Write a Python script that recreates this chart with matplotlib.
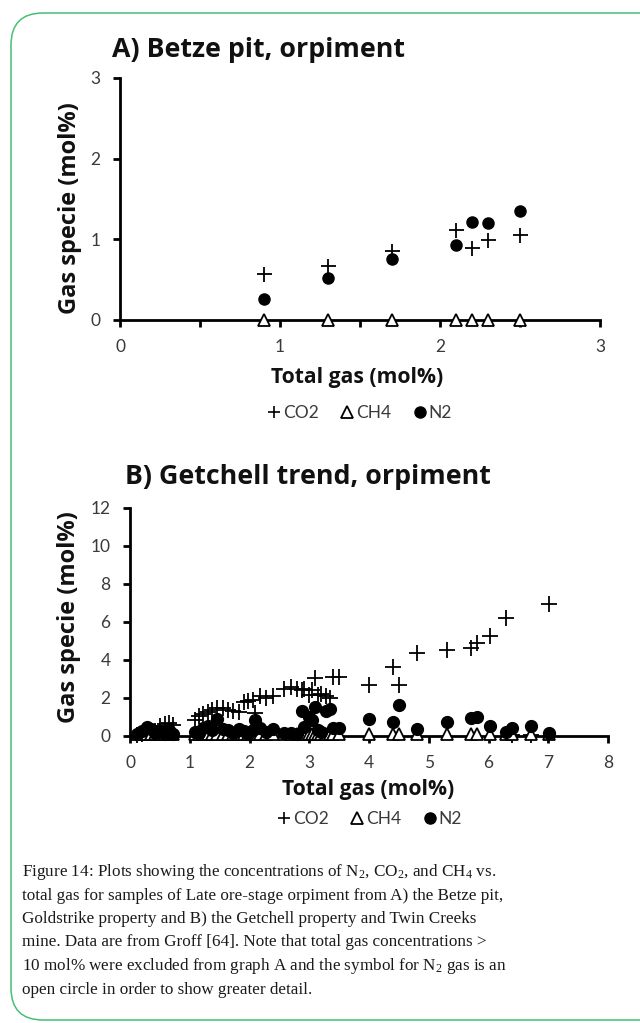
import matplotlib
matplotlib.use("Agg")
import matplotlib.pyplot as plt
from matplotlib.patches import FancyBboxPatch
from matplotlib.lines import Line2D
import numpy as np

plt.rcParams['mathtext.fontset'] = 'custom'
plt.rcParams['mathtext.rm'] = 'Liberation Serif'
plt.rcParams['mathtext.it'] = 'Liberation Serif:italic'

# ---------------- Data ----------------
# Panel A: Betze pit, orpiment
total_a = [0.9, 1.3, 1.7, 2.1, 2.2, 2.3, 2.5]
co2_a = [0.57, 0.67, 0.86, 1.11, 0.89, 0.99, 1.05]
ch4_a = [0.0, 0.0, 0.0, 0.0, 0.0, 0.0, 0.0]
n2_a = [0.26, 0.52, 0.75, 0.93, 1.22, 1.20, 1.35]

# Panel B: Getchell trend, orpiment
total_b = [0.12, 0.20, 0.28, 0.35, 0.42, 0.50, 0.58, 0.65, 0.72,
           1.08, 1.15, 1.22, 1.30, 1.38, 1.46, 1.55, 1.64, 1.72, 1.82,
           1.90, 1.98, 2.06, 2.10, 2.18, 2.28, 2.40, 2.58, 2.70, 2.80,
           2.88, 2.92, 3.00, 3.05, 3.10, 3.14, 3.20, 3.28, 3.35, 3.40, 3.50,
           4.00, 4.40, 4.51, 4.81, 5.31, 5.70, 5.80, 6.03, 6.30, 6.40, 6.71, 7.01]
co2_b = [0.05, 0.10, 0.15, 0.20, 0.25, 0.55, 0.62, 0.70, 0.60,
         0.82, 1.05, 1.15, 1.28, 1.35, 1.45, 1.45, 1.38, 1.30, 1.28,
         1.80, 1.85, 1.88, 1.20, 2.10, 1.98, 2.10, 2.50, 2.58, 2.45,
         2.40, 2.50, 2.15, 2.40, 3.05, 2.15, 2.20, 2.10, 2.00, 3.10, 3.10,
         2.70, 3.64, 2.68, 4.39, 4.51, 4.65, 4.90, 5.25, 6.23, 0.05, 0.05, 6.96]
ch4_b = [0.08] * len(total_b)
n2_b = [0.12, 0.25, 0.45, 0.35, 0.15, 0.25, 0.10, 0.30, 0.12,
        0.22, 0.15, 0.40, 0.55, 0.30, 0.90, 0.35, 0.30, 0.15, 0.35,
        0.25, 0.10, 0.30, 0.85, 0.40, 0.20, 0.35, 0.15, 0.18, 0.10,
        1.30, 0.50, 1.00, 0.85, 1.55, 0.30, 0.20, 1.30, 1.40, 0.40, 0.42,
        0.87, 0.75, 1.63, 0.35, 0.72, 0.93, 1.01, 0.54, 0.20, 0.44, 0.54, 0.14]

species = ["CO2", "CH4", "N2"]
xticks_a = [0, 1, 2, 3]
yticks_a = [0, 1, 2, 3]
xticks_b = [0, 1, 2, 3, 4, 5, 6, 7, 8]
yticks_b = [0, 2, 4, 6, 8, 10, 12]

caption_lines = [
    r"Figure 14: Plots showing the concentrations of N${}_{2}$, CO${}_{2}$, and CH${}_{4}$ vs.",
    "total gas for samples of Late ore-stage orpiment from A) the Betze pit,",
    "Goldstrike property and B) the Getchell property and Twin Creeks",
    "mine. Data are from Groff [64]. Note that total gas concentrations >",
    r"10 mol% were excluded from graph A and the symbol for N${}_{2}$ gas is an",
    "open circle in order to show greater detail.",
]

# ---------------- Figure ----------------
W, H = 640, 1023
fig = plt.figure(figsize=(W / 100, H / 100), dpi=100)
fig.patch.set_facecolor("white")

bg = fig.add_axes([0, 0, 1, 1])
bg.set_xlim(0, W)
bg.set_ylim(H, 0)
bg.axis("off")
bg.patch.set_visible(False)
bg.add_patch(FancyBboxPatch((11, 13), 720, 1007,
                            boxstyle="round,pad=0,rounding_size=32",
                            fill=False, edgecolor="#45c074", linewidth=1.1))

SANS = "Lato"
BOLD = "Open Sans"
GRAY = "#3a3a3a"
DARK = "#111111"


def ax_rect(x0, x1, y_top, y_bot):
    return [x0 / W, 1 - y_bot / H, (x1 - x0) / W, (y_bot - y_top) / H]


def style_axis(ax, xt, yt, xlim, ylim, xminor=None):
    for s in ["top", "right"]:
        ax.spines[s].set_visible(False)
    for s in ["left", "bottom"]:
        ax.spines[s].set_linewidth(2.0)
        ax.spines[s].set_color("black")
        ax.spines[s].set_capstyle("projecting")
    ax.set_xlim(*xlim)
    ax.set_ylim(*ylim)
    ax.set_xticks(xt)
    ax.set_yticks(yt)
    if xminor is not None:
        ax.set_xticks(xminor, minor=True)
        ax.tick_params(axis="x", which="minor", direction="out", length=5, width=2, color="black")
    ax.tick_params(axis="both", which="major", direction="out", length=5, width=2,
                   color="black", labelcolor=GRAY, labelsize=12.5, pad=9)
    for lab in ax.get_xticklabels() + ax.get_yticklabels():
        lab.set_fontfamily(SANS)
    ax.patch.set_visible(False)


def plot_series(ax, x, co2, ch4, n2, ms):
    ax.plot(x, co2, linestyle="none", marker="+", markersize=ms * 1.35, markeredgewidth=1.3,
            color="black", clip_on=False, zorder=3)
    ax.plot(x, ch4, linestyle="none", marker="^", markersize=ms, markeredgewidth=1.3,
            markerfacecolor="white", markeredgecolor="black", clip_on=False, zorder=4)
    ax.plot(x, n2, linestyle="none", marker="o", markersize=ms, markeredgewidth=1.0,
            color="black", clip_on=False, zorder=5)


def add_legend(cx, cy):
    handles = [
        Line2D([], [], linestyle="none", marker="+", markersize=9, markeredgewidth=1.2, color="black"),
        Line2D([], [], linestyle="none", marker="^", markersize=8, markeredgewidth=1.3,
               markerfacecolor="white", markeredgecolor="black"),
        Line2D([], [], linestyle="none", marker="o", markersize=8, color="black"),
    ]
    leg = fig.legend(handles, species, loc="center", bbox_to_anchor=(cx / W, 1 - cy / H),
                     ncol=3, frameon=False, handlelength=0.7, handletextpad=0.15,
                     columnspacing=1.3, prop={"family": SANS, "size": 12.5})
    for t in leg.get_texts():
        t.set_color(GRAY)


# ---- Panel A ----
axA = fig.add_axes(ax_rect(120, 600, 78, 320))
style_axis(axA, xticks_a, yticks_a, (0, 3), (0, 3), xminor=[0.5, 1.5, 2.5])
plot_series(axA, total_a, co2_a, ch4_a, n2_a, ms=8)
bg.text(112, 50, "A) Betze pit, orpiment", fontfamily=BOLD, fontweight="bold",
        fontsize=19.3, ha="left", va="center", color=DARK)
bg.text(70, 208, "Gas specie (mol%)", fontfamily=BOLD, fontweight="bold",
        fontsize=17, ha="center", va="center", rotation=90, color=DARK)
bg.text(357, 378, "Total gas (mol%)", fontfamily=BOLD, fontweight="bold",
        fontsize=15.2, ha="center", va="center", color=DARK)
add_legend(360, 413)

# ---- Panel B ----
axB = fig.add_axes(ax_rect(130, 608, 508, 736))
style_axis(axB, xticks_b, yticks_b, (0, 8), (0, 12))
plot_series(axB, total_b, co2_b, ch4_b, n2_b, ms=8.5)
bg.text(125, 477, "B) Getchell trend, orpiment", fontfamily=BOLD, fontweight="bold",
        fontsize=19.3, ha="left", va="center", color=DARK)
bg.text(69, 617, "Gas specie (mol%)", fontfamily=BOLD, fontweight="bold",
        fontsize=17, ha="center", va="center", rotation=90, color=DARK)
bg.text(368, 790, "Total gas (mol%)", fontfamily=BOLD, fontweight="bold",
        fontsize=15.2, ha="center", va="center", color=DARK)
add_legend(370, 819)

# ---- Caption ----
y0 = 872
for i, line in enumerate(caption_lines):
    bg.text(22, y0 + i * 23.5, line, fontfamily="Liberation Serif", fontsize=12.3,
            ha="left", va="center", color="#1a1a1a")

fig.savefig("out.png", dpi=100, facecolor="white")
